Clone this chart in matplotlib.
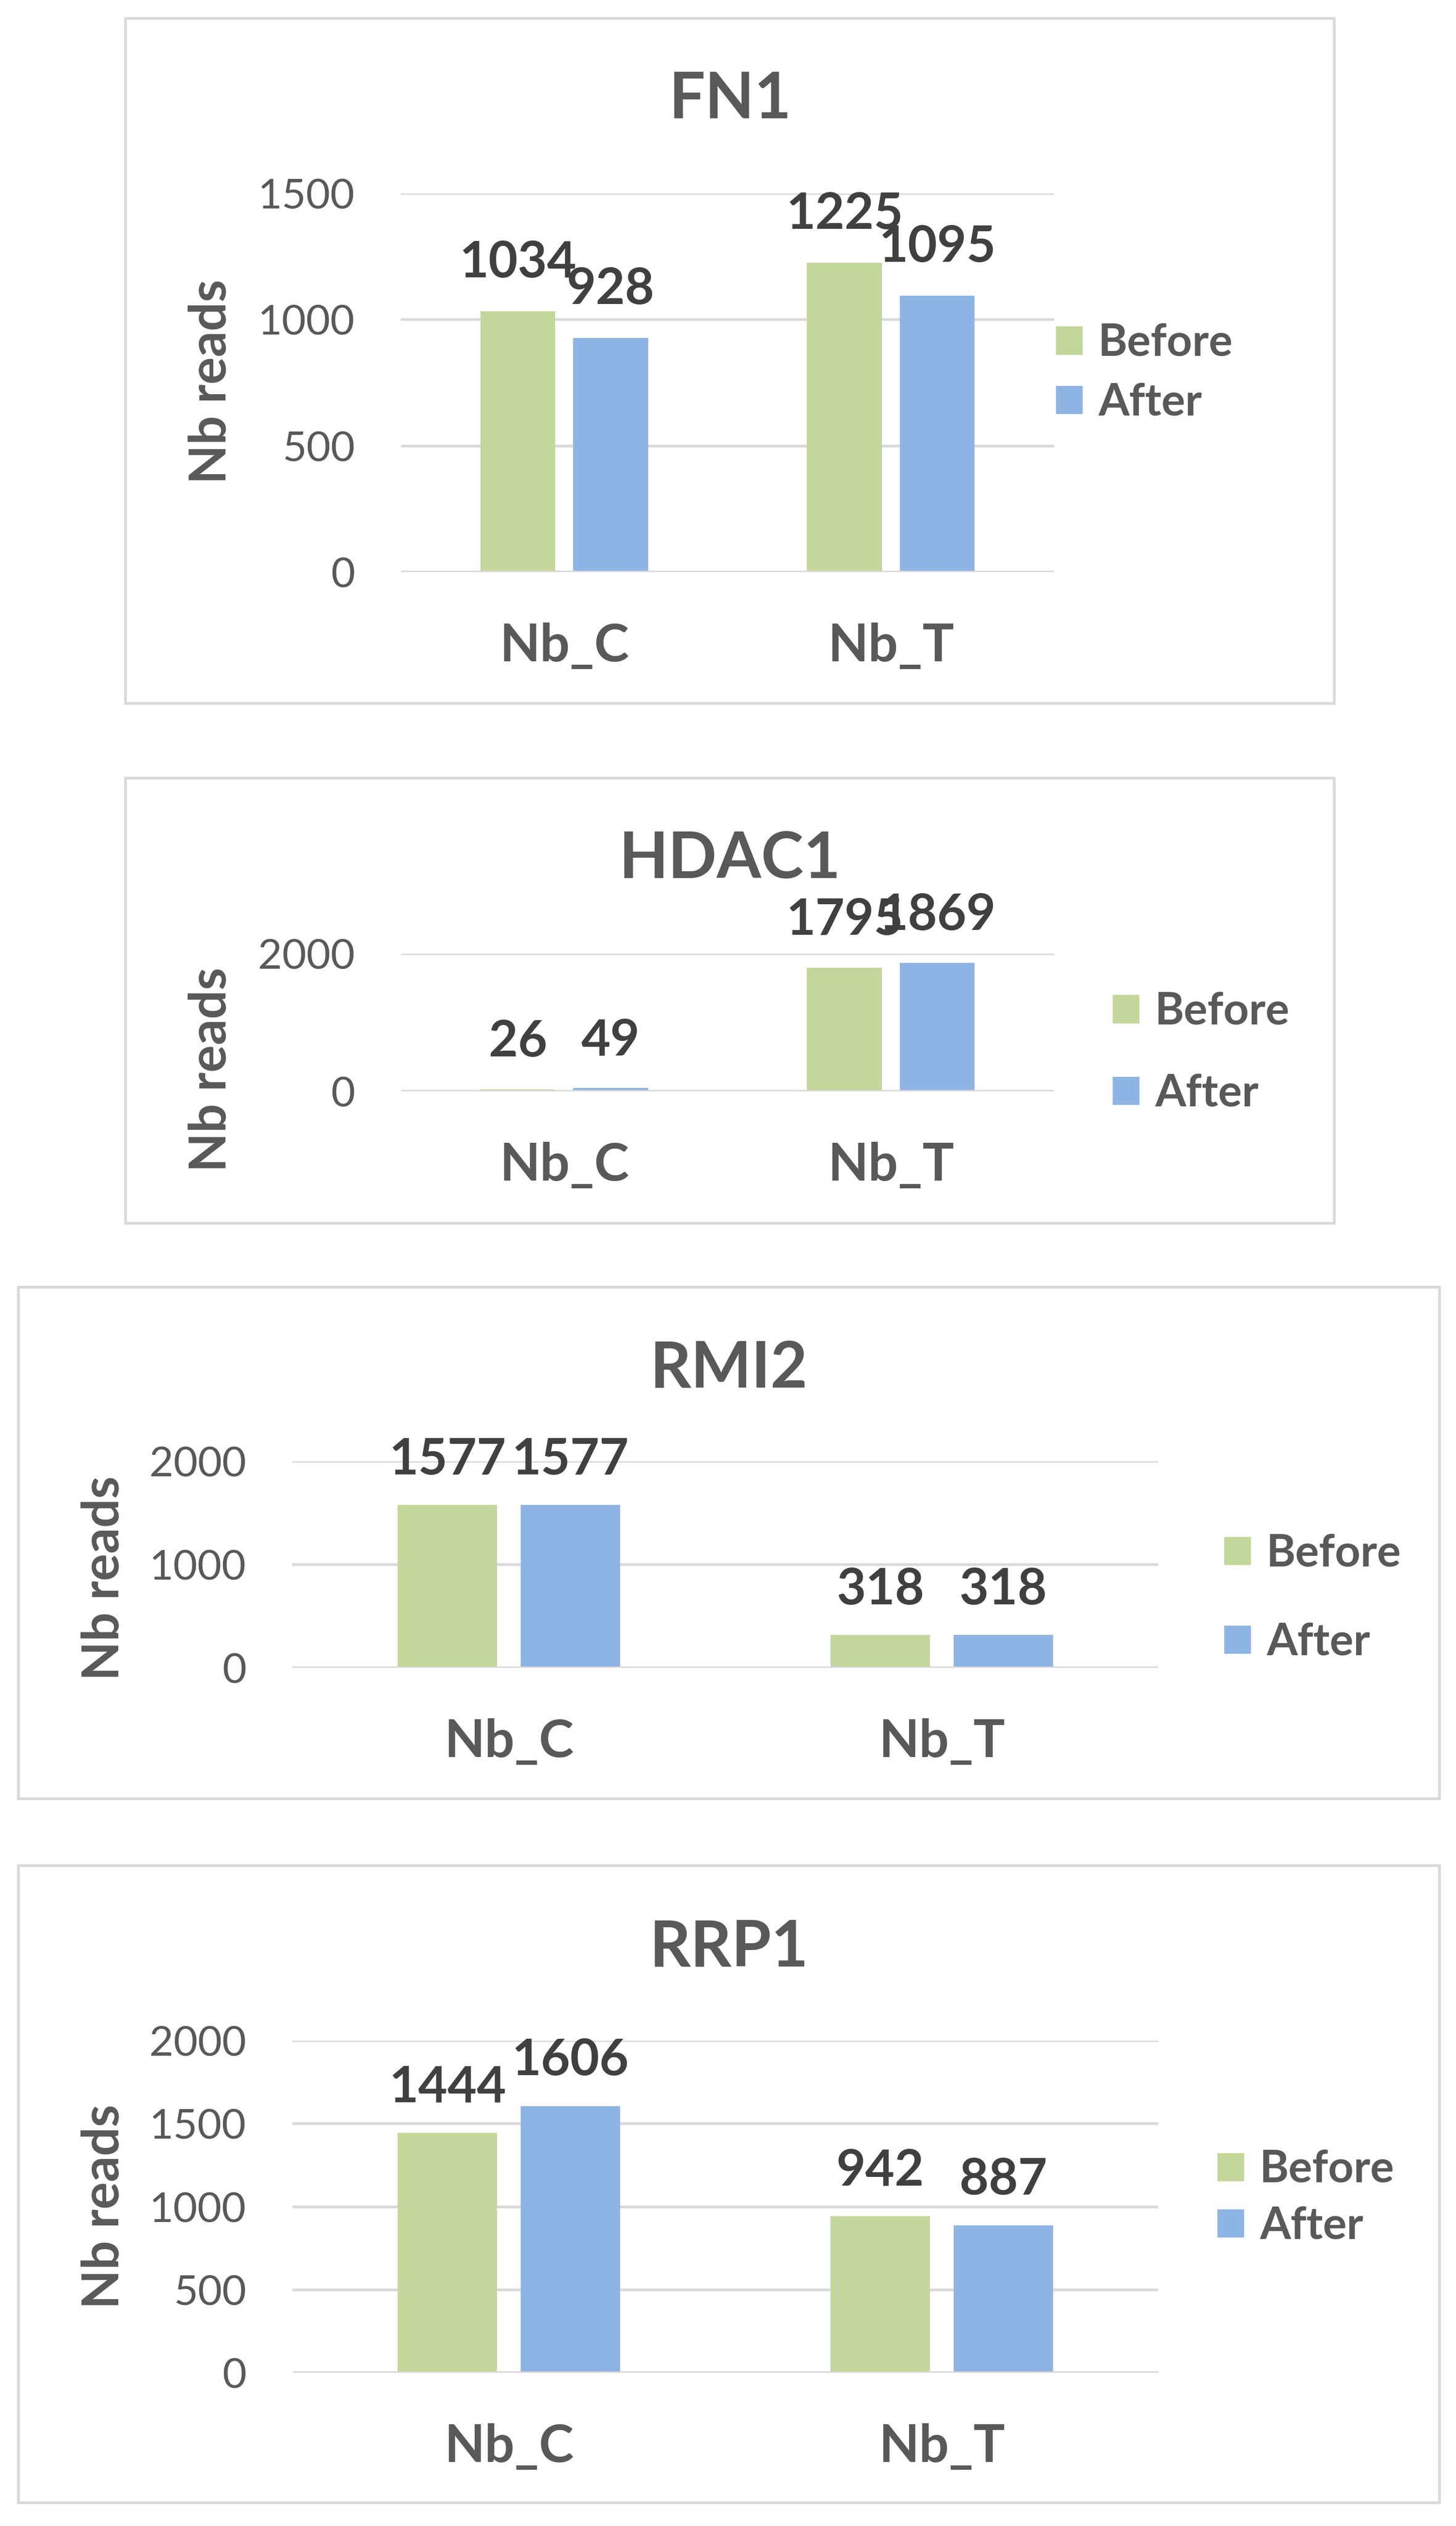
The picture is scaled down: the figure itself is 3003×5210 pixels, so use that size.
import numpy as np
import matplotlib
matplotlib.use("Agg")
import matplotlib.pyplot as plt
from matplotlib.patches import Rectangle

plt.rcParams['font.family'] = ['Lato', 'DejaVu Sans']

# --------------------------------------------------------------------------- #
# data
genes = ['FN1', 'HDAC1', 'RMI2', 'RRP1']
categories = ['Nb_C', 'Nb_T']
series = ['Before', 'After']

before_fn1 = [1034, 1225]
after_fn1 = [928, 1095]
before_hdac1 = [26, 1795]
after_hdac1 = [49, 1869]
before_rmi2 = [1577, 318]
after_rmi2 = [1577, 318]
before_rrp1 = [1444, 942]
after_rrp1 = [1606, 887]

yticks_fn1 = [0, 500, 1000, 1500]
yticks_hdac1 = [0, 2000]
yticks_rmi2 = [0, 1000, 2000]
yticks_rrp1 = [0, 500, 1000, 1500, 2000]

# --------------------------------------------------------------------------- #
W, H = 3003, 5210
GREEN = '#C4D79B'
BLUE = '#8EB4E3'
GRID = '#D9D9D9'
TXT = '#595959'
LBL = '#404040'

# layout in pixels: box, axes (x0, x1, ytop, ybottom), title baseline,
# ylabel centre, legend (x, ycentre, spacing), data label offset
layout = {
  'FN1':   dict(box=(259, 38, 2752, 1451), ax=(827, 2174, 399, 1180), title=244,
                ylab=(436, 787), leg=(2178, 770, 0.42), off=70),
  'HDAC1': dict(box=(259, 1605, 2752, 2523), ax=(827, 2174, 1967, 2251), title=1811,
                ylab=(436, 2206), leg=(2295, 2172, 0.92), off=68),
  'RMI2':  dict(box=(38, 2655, 2969, 3710), ax=(603, 2389, 3014, 3440), title=2861,
                ylab=(215, 3255), leg=(2525, 3297, 1.08), off=63),
  'RRP1':  dict(box=(38, 3848, 2969, 5162), ax=(603, 2389, 4209, 4894), title=4056,
                ylab=(215, 4551), leg=(2511, 4534, 0.35), off=64),
}
values = {
  'FN1': (before_fn1, after_fn1, yticks_fn1),
  'HDAC1': (before_hdac1, after_hdac1, yticks_hdac1),
  'RMI2': (before_rmi2, after_rmi2, yticks_rmi2),
  'RRP1': (before_rrp1, after_rrp1, yticks_rrp1),
}

PX = 72 / 100  # pixel -> point

fig = plt.figure(figsize=(W / 100, H / 100), dpi=100)
fig.patch.set_facecolor('white')

for g in genes:
  L = layout[g]
  bef, aft, yt = values[g]

  # outer chart frame
  bx0, by0, bx1, by1 = L['box']
  fig.patches.append(Rectangle((bx0 / W, 1 - by1 / H), (bx1 - bx0) / W, (by1 - by0) / H,
                               transform=fig.transFigure, fill=False,
                               edgecolor=GRID, linewidth=4))

  x0, x1, yt0, yb0 = L['ax']
  ax = fig.add_axes([x0 / W, 1 - yb0 / H, (x1 - x0) / W, (yb0 - yt0) / H])
  x = np.arange(len(categories))
  w = 0.229
  off = 0.142
  b1 = ax.bar(x - off, bef, w, color=GREEN, label=series[0], zorder=1)
  b2 = ax.bar(x + off, aft, w, color=BLUE, label=series[1], zorder=1)

  for bars, vals in ((b1, bef), (b2, aft)):
    for r, v in zip(bars, vals):
      ax.annotate(str(v), (r.get_x() + r.get_width() / 2, v),
                  xytext=(0, L['off'] * PX), textcoords='offset points',
                  ha='center', va='baseline', fontsize=75, fontweight='bold',
                  color=LBL, annotation_clip=False)

  ax.set_xlim(-0.5, 1.5)
  ax.set_ylim(0, yt[-1])
  ax.set_yticks(yt, [str(t) for t in yt])
  ax.set_xticks(x, categories, va='baseline', fontweight='bold')
  ax.tick_params(axis='y', length=0, pad=95 * PX, labelsize=62, labelcolor=TXT)
  ax.tick_params(axis='x', length=0, pad=184 * PX, labelsize=78, labelcolor=TXT)
  ax.yaxis.grid(True, color=GRID, linewidth=4, zorder=0)
  ax.axhline(0, color=GRID, linewidth=4, zorder=2)
  ax.set_axisbelow(True)
  for s in ax.spines.values():
    s.set_visible(False)
  ax.patch.set_alpha(0)

  ax.set_ylabel('Nb reads', fontsize=76, fontweight='bold', color=TXT, va='center')
  lx, ly = L['ylab']
  ax.yaxis.set_label_coords((lx - x0) / (x1 - x0), (yb0 - ly) / (yb0 - yt0))

  fig.text((bx0 + bx1) / 2 / W, 1 - L['title'] / H, g, ha='center', va='baseline',
           fontsize=95, fontweight='bold', color=TXT)

  gx, gy, sp = L['leg']
  leg = ax.legend(loc='center left', bbox_to_anchor=(gx / W, 1 - gy / H),
                  bbox_transform=fig.transFigure, frameon=False, borderpad=0,
                  borderaxespad=0, handlelength=0.6, handleheight=0.6,
                  handletextpad=0.35, labelspacing=sp,
                  prop={'size': 66, 'weight': 'bold'})
  for t in leg.get_texts():
    t.set_color(TXT)

fig.savefig('out.png', dpi=100, facecolor='white')
